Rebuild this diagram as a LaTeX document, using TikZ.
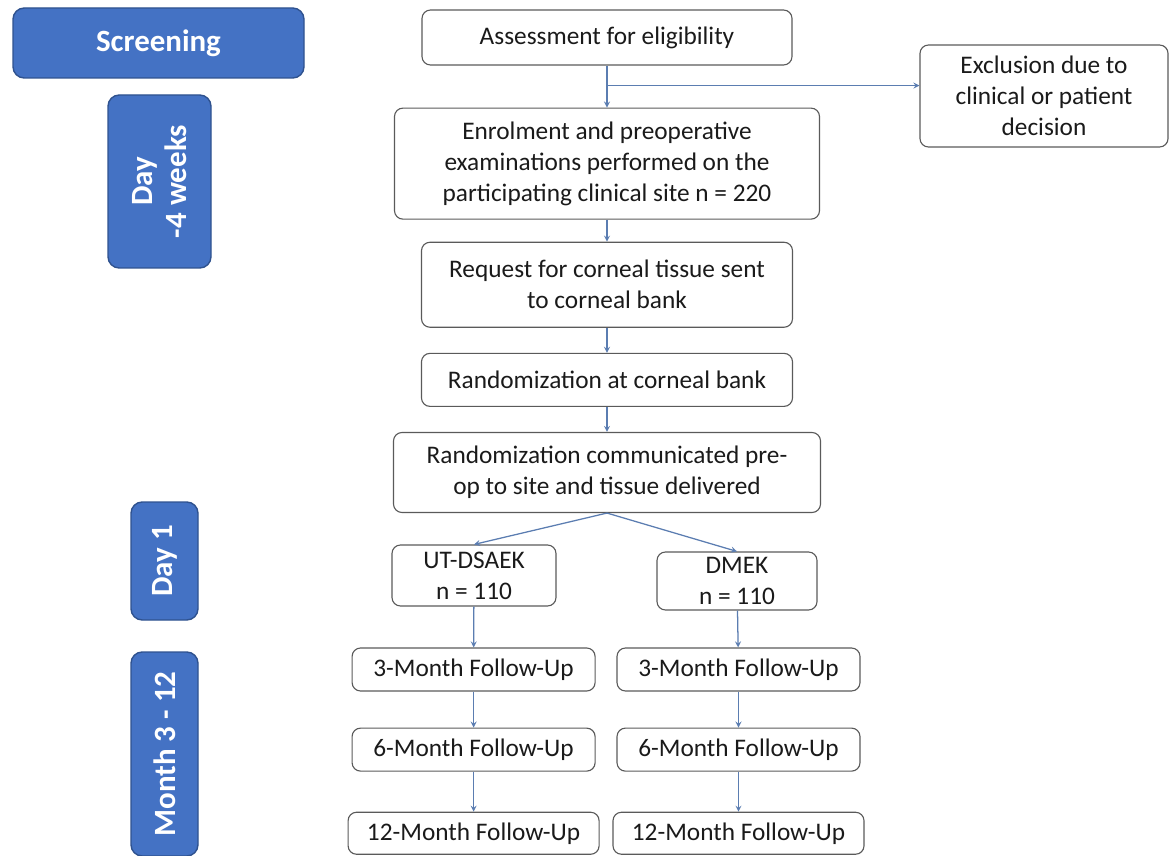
\documentclass[tikz,border=0pt]{standalone}
\usepackage{fontspec}
\setmainfont{Carlito}
\usepackage{xcolor}
\usepackage{tikz}
\usetikzlibrary{arrows,
                calc,
                positioning,
                shapes}
\definecolor{phaseblue}{HTML}{4472C4}
\definecolor{phaseedge}{HTML}{2F528F}
\definecolor{linkblue}{HTML}{5B7DB1}
\definecolor{boxedge}{HTML}{5A5A5A}
\definecolor{boxtext}{HTML}{1A1A1A}
\tikzstyle{arrow} = [line width=0.9pt,->,>=stealth,draw=linkblue]
\tikzstyle{stepbox} = [rounded corners=6pt, draw=boxedge, line width=0.8pt,
    align=center, text=boxtext, font=\fontsize{18}{22}\selectfont, inner sep=2pt]
\tikzstyle{phase} = [rounded corners=8pt, fill=phaseblue, draw=phaseedge,
    line width=1pt, text=white, align=center,
    font=\fontsize{22}{24}\selectfont\bfseries]

\begin{document}
\begin{tikzpicture}
        \useasboundingbox (0,0) rectangle (29.25,-21.4);

        % phases on the left
        \node[phase, minimum width=7.275cm, minimum height=1.75cm] (screen) at (3.9625,-1.075) {Screening};
        \node[phase, rotate=90, minimum width=4.325cm, minimum height=2.575cm] (weeks) at (3.9875,-4.5375) {Day\\ -4 weeks};
        \node[phase, rotate=90, minimum width=2.95cm, minimum height=1.675cm] (dayone) at (4.1125,-14.025) {Day 1};
        \node[phase, rotate=90, minimum width=5.1cm, minimum height=1.675cm] (months) at (4.1125,-18.85) {Month 3 - 12};

        % main column
        \node[stepbox, minimum width=9.25cm, minimum height=1.375cm] (assess) at (15.175,-0.9375) {Assessment for eligibility};
        \node[stepbox, minimum width=10.625cm, minimum height=2.775cm] (enrol)[below= 1.05cm of assess] {Enrolment and preoperative\\ examinations performed on the\\ participating clinical site n = 220};
        \node[stepbox, minimum width=9.275cm, minimum height=2.125cm] (request)[below= 0.55cm of enrol] {Request for corneal tissue sent\\ to corneal bank};
        \node[stepbox, minimum width=9.275cm, minimum height=1.325cm] (randbank)[below= 0.625cm of request] {Randomization at corneal bank};
        \node[stepbox, minimum width=10.675cm, minimum height=2.0cm] (randsite)[below= 0.625cm of randbank] {Randomization communicated pre-\\ op to site and tissue delivered};
        \node[stepbox, minimum width=6.2cm, minimum height=2.55cm] (exclude) at (26.1,-2.4) {Exclusion due to\\ clinical or patient\\ decision};

        % two arms
        \node[stepbox, minimum width=4.1cm, minimum height=1.525cm] (dsaek) at (11.85,-14.3875) {UT-DSAEK\\ n = 110};
        \node[stepbox, minimum width=4.0cm, minimum height=1.45cm] (dmek) at (18.425,-14.525) {DMEK\\ n = 110};
        \node[stepbox, minimum width=6.075cm, minimum height=1.075cm] (lthree) at (11.84,-16.7375) {3-Month Follow-Up};
        \node[stepbox, minimum width=6.075cm, minimum height=1.075cm] (lsix)[below= 0.9cm of lthree] {6-Month Follow-Up};
        \node[stepbox, minimum width=6.275cm, minimum height=1.05cm] (ltwelve)[below= 1.0cm of lsix] {12-Month Follow-Up};
        \node[stepbox, minimum width=6.075cm, minimum height=1.075cm] (rthree) at (18.4625,-16.7375) {3-Month Follow-Up};
        \node[stepbox, minimum width=6.075cm, minimum height=1.075cm] (rsix)[below= 0.9cm of rthree] {6-Month Follow-Up};
        \node[stepbox, minimum width=6.275cm, minimum height=1.05cm] (rtwelve)[below= 1.0cm of rsix] {12-Month Follow-Up};

        \coordinate (split) at ($(assess.south)+(0,-0.5)$);
        \draw[arrow] (assess) -- (enrol);
        \draw[arrow] (split) -- (split -| exclude.west);
        \draw[arrow] (enrol) -- (request);
        \draw[arrow] (request) -- (randbank);
        \draw[arrow] (randbank) -- (randsite);
        \draw[arrow] (randsite.south) -- (dsaek.north);
        \draw[arrow] (randsite.south) -- (dmek.north);
        \draw[arrow] (dsaek) -- (lthree);
        \draw[arrow] (lthree) -- (lsix);
        \draw[arrow] (lsix) -- (ltwelve);
        \draw[arrow] (dmek) -- (rthree);
        \draw[arrow] (rthree) -- (rsix);
        \draw[arrow] (rsix) -- (rtwelve);
    \end{tikzpicture}
\end{document}
